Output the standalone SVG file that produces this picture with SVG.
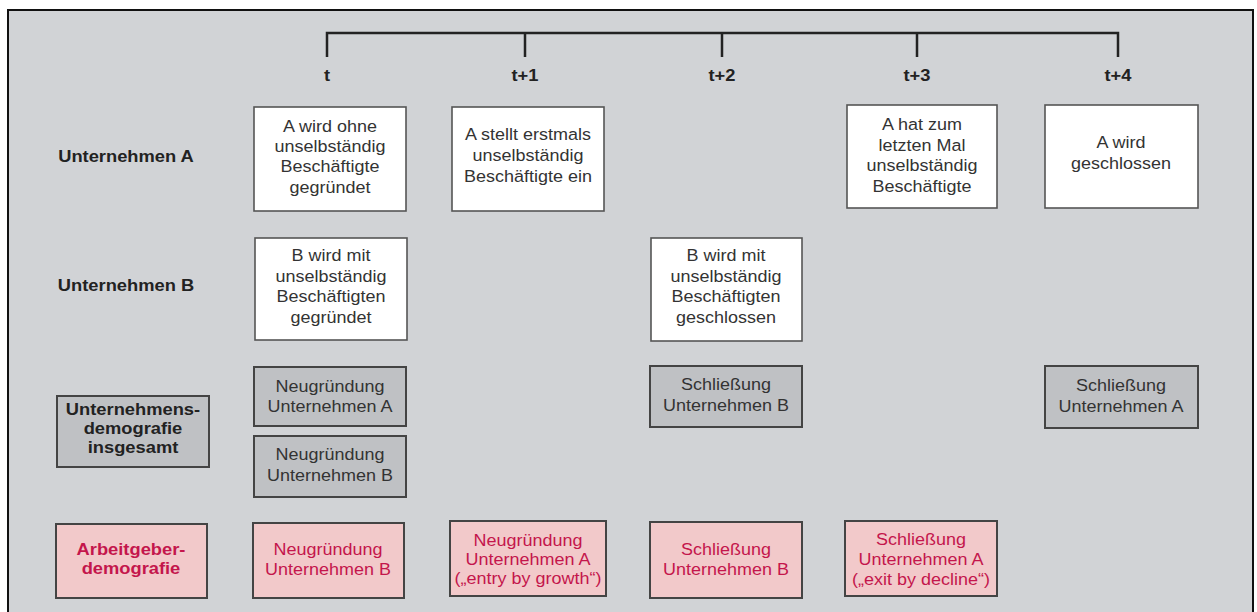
<svg xmlns="http://www.w3.org/2000/svg" width="1257" height="612" viewBox="0 0 1257 612">
<style>
text{font-family:"Liberation Sans",Arial,sans-serif;text-anchor:middle;transform-box:fill-box;transform-origin:center;transform:scaleX(1.09);}
.t{font-size:16.5px;fill:#333;}
.b{font-size:16.5px;font-weight:bold;fill:#222;transform:scaleX(1.11);}
.p{font-size:16.5px;fill:#c4164c;}
.pb{font-size:16.5px;font-weight:bold;fill:#c4164c;transform:scaleX(1.11);}
.w{fill:#fff;stroke:#555;stroke-width:1.6;}
.g{fill:#bfc1c4;stroke:#444;stroke-width:2;}
.k{fill:#f2c9ca;stroke:#444;stroke-width:2;}
.tl{stroke:#222;stroke-width:2.5;fill:none;}
</style>
<rect x="0" y="0" width="1257" height="612" fill="#fff"/>
<rect x="8" y="10" width="1245" height="610" fill="#d1d3d6" stroke="#111" stroke-width="2"/>

<g id="timeline">
<path class="tl" d="M327,57 V33 H1118 V57 M525,33 V57 M722,33 V57 M917,33 V57"/>
<text class="b" x="327" y="81">t</text>
<text class="b" x="525" y="81">t+1</text>
<text class="b" x="722" y="81">t+2</text>
<text class="b" x="917" y="81">t+3</text>
<text class="b" x="1118" y="81">t+4</text>
</g>

<g id="label-unternehmen-a"><text class="b" x="126" y="162">Unternehmen A</text></g>
<g id="label-unternehmen-b"><text class="b" x="126" y="291">Unternehmen B</text></g>

<g id="a-t">
<rect class="w" x="254" y="107" width="152" height="104"/>
<text class="t" x="330" y="132">A wird ohne</text>
<text class="t" x="330" y="152">unselbständig</text>
<text class="t" x="330" y="172">Beschäftigte</text>
<text class="t" x="330" y="193">gegründet</text>
</g>
<g id="a-t1">
<rect class="w" x="452" y="107" width="152" height="104"/>
<text class="t" x="528" y="140">A stellt erstmals</text>
<text class="t" x="528" y="161">unselbständig</text>
<text class="t" x="528" y="182">Beschäftigte ein</text>
</g>
<g id="a-t3">
<rect class="w" x="847" y="105" width="150" height="103"/>
<text class="t" x="922" y="130">A hat zum</text>
<text class="t" x="922" y="151">letzten Mal</text>
<text class="t" x="922" y="171">unselbständig</text>
<text class="t" x="922" y="192">Beschäftigte</text>
</g>
<g id="a-t4">
<rect class="w" x="1045" y="105" width="153" height="103"/>
<text class="t" x="1121" y="148">A wird</text>
<text class="t" x="1121" y="169">geschlossen</text>
</g>

<g id="b-t">
<rect class="w" x="255" y="238" width="152" height="102"/>
<text class="t" x="331" y="261">B wird mit</text>
<text class="t" x="331" y="282">unselbständig</text>
<text class="t" x="331" y="302">Beschäftigten</text>
<text class="t" x="331" y="323">gegründet</text>
</g>
<g id="b-t2">
<rect class="w" x="651" y="238" width="151" height="103"/>
<text class="t" x="726" y="261">B wird mit</text>
<text class="t" x="726" y="282">unselbständig</text>
<text class="t" x="726" y="302">Beschäftigten</text>
<text class="t" x="726" y="323">geschlossen</text>
</g>

<g id="label-demografie">
<rect class="g" x="57" y="396" width="152" height="71"/>
<text class="b" x="133" y="415">Unternehmens-</text>
<text class="b" x="133" y="434">demografie</text>
<text class="b" x="133" y="453">insgesamt</text>
</g>
<g id="d-neu-a">
<rect class="g" x="254" y="367" width="152" height="59"/>
<text class="t" x="330" y="392">Neugründung</text>
<text class="t" x="330" y="412">Unternehmen A</text>
</g>
<g id="d-neu-b">
<rect class="g" x="254" y="436" width="152" height="61"/>
<text class="t" x="330" y="460">Neugründung</text>
<text class="t" x="330" y="481">Unternehmen B</text>
</g>
<g id="d-schl-b">
<rect class="g" x="650" y="366" width="152" height="61"/>
<text class="t" x="726" y="390">Schließung</text>
<text class="t" x="726" y="411">Unternehmen B</text>
</g>
<g id="d-schl-a">
<rect class="g" x="1045" y="366" width="153" height="62"/>
<text class="t" x="1121" y="391">Schließung</text>
<text class="t" x="1121" y="412">Unternehmen A</text>
</g>

<g id="label-arbeitgeber">
<rect class="k" x="56" y="524" width="151" height="74"/>
<text class="pb" x="131" y="555">Arbeitgeber-</text>
<text class="pb" x="131" y="574">demografie</text>
</g>
<g id="ag-neu-b">
<rect class="k" x="253" y="523" width="151" height="75"/>
<text class="p" x="328" y="555">Neugründung</text>
<text class="p" x="328" y="575">Unternehmen B</text>
</g>
<g id="ag-neu-a">
<rect class="k" x="450" y="521" width="156" height="75"/>
<text class="p" x="528" y="546">Neugründung</text>
<text class="p" x="528" y="565">Unternehmen A</text>
<text class="p" x="528" y="584">(„entry by growth“)</text>
</g>
<g id="ag-schl-b">
<rect class="k" x="650" y="522" width="152" height="76"/>
<text class="p" x="726" y="555">Schließung</text>
<text class="p" x="726" y="575">Unternehmen B</text>
</g>
<g id="ag-schl-a">
<rect class="k" x="845" y="521" width="152" height="75"/>
<text class="p" x="921" y="545">Schließung</text>
<text class="p" x="921" y="565">Unternehmen A</text>
<text class="p" x="921" y="585">(„exit by decline“)</text>
</g>

<g id="connectors"></g>
</svg>
